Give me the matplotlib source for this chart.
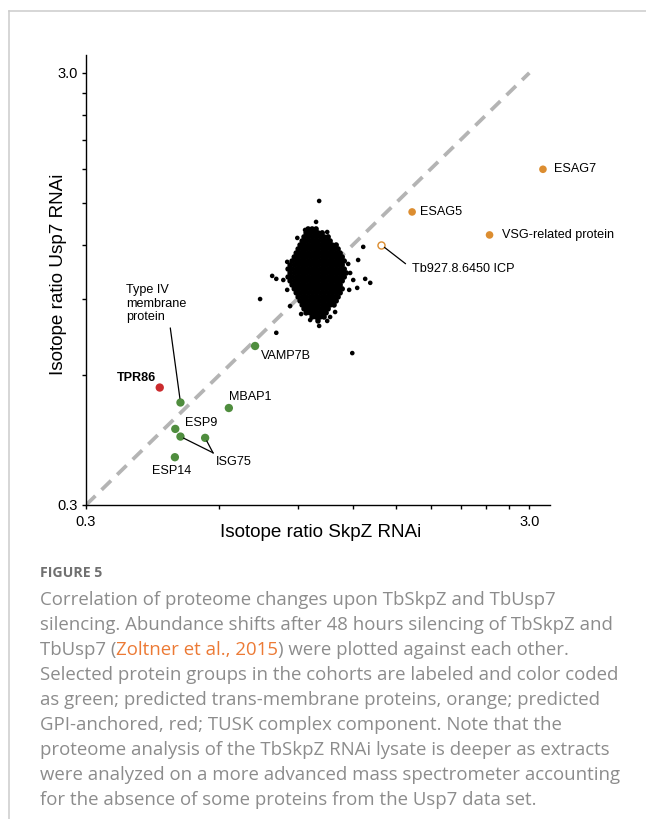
import matplotlib

matplotlib.use("Agg")

import matplotlib.pyplot as plt
from matplotlib.lines import Line2D
from matplotlib.ticker import FixedLocator, NullFormatter, FixedFormatter

plt.rcParams["font.family"] = ["Liberation Sans", "DejaVu Sans"]

# ---- data ----
# dense cloud of unchanged proteins, row by row (y level -> x values)
core_y = [1.306, 1.279, 1.252, 1.225, 1.199, 1.174, 1.149, 1.125, 1.101, 1.078, 1.055, 1.033,
          1.011, 0.990, 0.969, 0.949, 0.929, 0.909, 0.890, 0.871, 0.853, 0.835, 0.817, 0.800]
core_x = [
    [0.951, 0.971, 0.991],
    [0.941, 0.961, 0.981, 1.001, 1.023],
    [0.931, 0.951, 0.971, 0.991, 1.012, 1.033, 1.055],
    [0.922, 0.941, 0.961, 0.981, 1.001, 1.023, 1.044, 1.066],
    [0.912, 0.931, 0.951, 0.971, 0.991, 1.012, 1.033, 1.055, 1.077, 1.100],
    [0.903, 0.922, 0.941, 0.961, 0.981, 1.001, 1.023, 1.044, 1.066, 1.088, 1.111],
    [0.894, 0.912, 0.931, 0.951, 0.971, 0.991, 1.012, 1.033, 1.055, 1.077, 1.100, 1.123],
    [0.885, 0.903, 0.922, 0.941, 0.961, 0.981, 1.001, 1.023, 1.044, 1.066, 1.088, 1.111, 1.135],
    [0.875, 0.894, 0.912, 0.931, 0.951, 0.971, 0.991, 1.012, 1.033, 1.055, 1.077, 1.100, 1.123, 1.147],
    [0.866, 0.885, 0.903, 0.922, 0.941, 0.961, 0.981, 1.001, 1.023, 1.044, 1.066, 1.088, 1.111, 1.135],
    [0.857, 0.875, 0.894, 0.912, 0.931, 0.951, 0.971, 0.991, 1.012, 1.033, 1.055, 1.077, 1.100, 1.123, 1.147],
    [0.866, 0.885, 0.903, 0.922, 0.941, 0.961, 0.981, 1.001, 1.023, 1.044, 1.066, 1.088, 1.111, 1.135, 1.159],
    [0.857, 0.875, 0.894, 0.912, 0.931, 0.951, 0.971, 0.991, 1.012, 1.033, 1.055, 1.077, 1.100, 1.123, 1.147],
    [0.866, 0.885, 0.903, 0.922, 0.941, 0.961, 0.981, 1.001, 1.023, 1.044, 1.066, 1.088, 1.111, 1.135],
    [0.875, 0.894, 0.912, 0.931, 0.951, 0.971, 0.991, 1.012, 1.033, 1.055, 1.077, 1.100, 1.123],
    [0.885, 0.903, 0.922, 0.941, 0.961, 0.981, 1.001, 1.023, 1.044, 1.066, 1.088, 1.111, 1.135],
    [0.894, 0.912, 0.931, 0.951, 0.971, 0.991, 1.012, 1.033, 1.055, 1.077, 1.100, 1.123],
    [0.903, 0.922, 0.941, 0.961, 0.981, 1.001, 1.023, 1.044, 1.066, 1.088, 1.111],
    [0.912, 0.931, 0.951, 0.971, 0.991, 1.012, 1.033, 1.055, 1.077, 1.100],
    [0.922, 0.941, 0.961, 0.981, 1.001, 1.023, 1.044, 1.066, 1.088],
    [0.931, 0.951, 0.971, 0.991, 1.012, 1.033, 1.055],
    [0.941, 0.961, 0.981, 1.001, 1.023, 1.044],
    [0.971, 0.991, 1.012, 1.033],
    [1.001],
]

# scattered proteins around the cloud
outlier_x = [1.007, 0.789, 0.806, 0.836, 0.741, 0.866, 0.806, 0.961, 1.007, 1.066, 1.094,
             1.183, 1.202, 1.227, 1.279, 1.313, 1.266, 1.233, 1.196, 0.976, 0.936, 1.044,
             0.853, 0.853, 0.899, 1.050, 1.171, 1.177, 1.050, 0.917, 0.991]
outlier_y = [1.516, 1.017, 1.001, 0.995, 0.899, 0.866, 0.751, 0.804, 0.779, 0.817, 0.839,
             1.033, 0.995, 0.954, 1.001, 0.980, 1.187, 1.107, 0.674, 0.848, 1.299, 1.213,
             1.096, 0.944, 1.245, 1.285, 1.084, 0.944, 0.800, 0.830, 1.356]

# trans-membrane (green)
green_names = ["VAMP7B", "Type IV\nmembrane\nprotein", "MBAP1", "ESP9", "ISG75", "ISG75", "ESP14"]
green_x = [0.722, 0.490, 0.630, 0.477, 0.490, 0.557, 0.476]
green_y = [0.700, 0.518, 0.503, 0.450, 0.432, 0.429, 0.387]

# GPI-anchored (orange), the last one drawn open
orange_names = ["ESAG7", "ESAG5", "VSG-related protein", "Tb927.8.6450 ICP"]
orange_x = [3.22, 1.632, 2.44, 1.39]
orange_y = [1.795, 1.43, 1.265, 1.20]

# TUSK complex (red)
red_names = ["TPR86"]
red_x = [0.440]
red_y = [0.561]

tick_values = [0.3, 0.6, 0.9, 1.2, 1.5, 1.8, 2.1, 2.4, 2.7, 3.0]
tick_labels = ["0.3", "3.0"]

caption_title = "FIGURE 5"
caption_lines = [
    "Correlation of proteome changes upon TbSkpZ and TbUsp7",
    "silencing. Abundance shifts after 48 hours silencing of TbSkpZ and",
    None,
    "Selected protein groups in the cohorts are labeled and color coded",
    "as green; predicted trans-membrane proteins, orange; predicted",
    "GPI-anchored, red; TUSK complex component. Note that the",
    "proteome analysis of the TbSkpZ RNAi lysate is deeper as extracts",
    "were analyzed on a more advanced mass spectrometer accounting",
    "for the absence of some proteins from the Usp7 data set.",
]
caption_cite = ["TbUsp7 (", "Zoltner et al., 2015", ") were plotted against each other."]

GREEN = "#4f8d3e"
ORANGE = "#dc8d30"
RED = "#cb2b2e"
GREY_TXT = "#8c8c8c"
W, H = 646, 819

fig = plt.figure(figsize=(W / 100, H / 100), dpi=100)
ax = fig.add_axes([86 / W, 1 - 505 / H, (550 - 86) / W, (505 - 55) / H])

ax.set_xscale("log")
ax.set_yscale("log")
ax.set_xlim(0.3, 3.34)
ax.set_ylim(0.3, 3.3)

# identity line
ax.plot([tick_values[0], tick_values[-1]], [tick_values[0], tick_values[-1]],
        color="#b4b4b4", lw=2.7, dashes=(3.5, 2.3), zorder=1)

cx, cy = [], []
for yv, row in zip(core_y, core_x):
    for xv in row:
        cx.append(xv)
        cy.append(yv)
ax.scatter(cx, cy, s=16, color="black", edgecolors="none", zorder=2)
ax.scatter(outlier_x, outlier_y, s=11, color="black", edgecolors="none", zorder=2)

ax.scatter(green_x, green_y, s=36, color=GREEN, edgecolors="none", zorder=3)
ax.scatter(red_x, red_y, s=36, color=RED, edgecolors="none", zorder=3)
ax.scatter(orange_x[:3], orange_y[:3], s=30, color=ORANGE, edgecolors="none", zorder=3, clip_on=False)
ax.scatter(orange_x[3:], orange_y[3:], s=26, facecolors="white", edgecolors=ORANGE,
           linewidths=1.0, zorder=3)

fs = 9.1
line = dict(arrowstyle="-", color="black", lw=0.9, shrinkA=0, shrinkB=3)


def label(text, x, y, dx, dy, ha="left", **kw):
    ax.annotate(text, (x, y), xytext=(dx, dy), textcoords="offset points",
                ha=ha, va="center", fontsize=fs, **kw)


# orange labels
label(orange_names[0], orange_x[0], orange_y[0], 7.6, 0, annotation_clip=False)
label(orange_names[1], orange_x[1], orange_y[1], 5.8, 0)
label(orange_names[2], orange_x[2], orange_y[2], 9.1, 0)
label(orange_names[3], orange_x[3], orange_y[3], 22.3, -17.3,
      arrowprops=dict(line, shrinkA=3.5, relpos=(0, 0.5)))

# red
label(red_names[0], red_x[0], red_y[0], -2.9, 7.0, ha="right", fontweight="bold")

# green
label(green_names[0], green_x[0], green_y[0], 4.3, -7.0)
ax.annotate(green_names[1], (green_x[1], green_y[1]), xytext=(-39.1, 71.1),
            textcoords="offset points", ha="left", va="center", fontsize=fs,
            linespacing=1.15, arrowprops=dict(line, shrinkA=1.5, relpos=(0.72, 0.0)))
label(green_names[2], green_x[2], green_y[2], 0, 7.9)
label(green_names[3], green_x[3], green_y[3], 7.0, 4.3)
label(green_names[4], green_x[5], green_y[5], 7.9, -17.5)
ax.annotate("", (green_x[4], green_y[4]), xytext=(23.5, -11.7), textcoords="offset points",
            arrowprops=dict(line, shrinkB=2.5))
ax.annotate("", (green_x[5], green_y[5]), xytext=(5.8, -11.0), textcoords="offset points",
            arrowprops=dict(line, shrinkB=2.5))
ax.annotate(green_names[6], (green_x[6], green_y[6]), xytext=(-2.7, -9.9),
            textcoords="offset points", ha="center", va="center", fontsize=fs)

# axes styling
for side in ["top", "right"]:
    ax.spines[side].set_visible(False)
for side in ["left", "bottom"]:
    ax.spines[side].set_linewidth(1.0)

for axis in [ax.xaxis, ax.yaxis]:
    axis.set_major_locator(FixedLocator([tick_values[0], tick_values[-1]]))
    axis.set_major_formatter(FixedFormatter(tick_labels))
    axis.set_minor_locator(FixedLocator(tick_values[1:-1]))
    axis.set_minor_formatter(NullFormatter())
ax.tick_params(which="both", direction="out", length=3, width=1.0, labelsize=10.5)
ax.tick_params(axis="x", which="both", pad=4.5)
ax.tick_params(axis="y", which="both", pad=3)

ax.set_xlabel("Isotope ratio SkpZ RNAi", fontsize=13.6)
ax.set_ylabel("Isotope ratio Usp7 RNAi", fontsize=13.6)
ax.xaxis.set_label_coords(0.506, -0.043)
ax.yaxis.set_label_coords(-0.04, 0.513)

# page frame
fig.add_artist(Line2D([9 / W, 1], [1 - 11 / H, 1 - 11 / H], color="#cccccc", lw=1.1))
fig.add_artist(Line2D([9 / W, 9 / W], [0, 1 - 11 / H], color="#cccccc", lw=1.1))

# caption
x0 = 40 / W
cap_fs = 13.4
fig.text(x0, 1 - 573 / H, caption_title, fontsize=10.2, fontweight="bold", color="#707070",
         family=["Open Sans", "DejaVu Sans"], va="center")
renderer = fig.canvas.get_renderer()
for i, txt in enumerate(caption_lines):
    yy = 1 - (600 + 25 * i) / H
    if txt is not None:
        fig.text(x0, yy, txt, fontsize=cap_fs, color=GREY_TXT,
                 family=["Open Sans", "DejaVu Sans"], va="center")
    else:
        xx = x0
        for j, part in enumerate(caption_cite):
            t = fig.text(xx, yy, part, fontsize=cap_fs, color="#ec7a35" if j == 1 else GREY_TXT,
                         family=["Open Sans", "DejaVu Sans"], va="center")
            xx = t.get_window_extent(renderer).x1 / W

fig.savefig("out.png", dpi=100)
